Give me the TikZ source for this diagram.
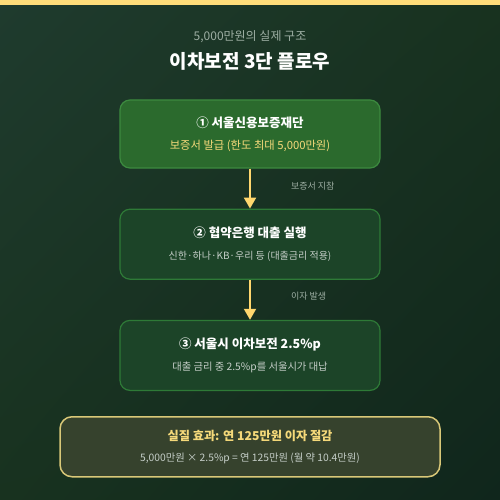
\documentclass[tikz,border=0pt]{standalone}
\usepackage{fontspec}
\setmainfont{Noto Sans CJK KR}
\usetikzlibrary{arrows.meta,positioning,shadings}
\definecolor{bgA}{HTML}{1F3B2E}
\definecolor{bgB}{HTML}{18321F}
\definecolor{bgC}{HTML}{10261C}
\definecolor{topbar}{HTML}{FFDD7A}
\definecolor{gold}{HTML}{F5D97A}
\definecolor{subgray}{HTML}{9DAEA3}
\definecolor{lightgray}{HTML}{C5CEC8}
\definecolor{leadfill}{HTML}{2B6A2D}
\definecolor{leaddraw}{HTML}{3C8A3F}
\definecolor{stepfill}{HTML}{1C4428}
\definecolor{stepdraw}{HTML}{2E7A37}
\definecolor{sumfill}{HTML}{36422D}
\definecolor{sumdraw}{HTML}{D9C878}
\definecolor{flowc}{HTML}{FFD76E}
\tikzset{stepbox/.style={draw=stepdraw,fill=stepfill,line width=1.2pt,rounded corners=10pt,align=center,minimum height=70pt,minimum width=260pt,text=white,font=\fontsize{11}{22}\selectfont},leadbox/.style={stepbox,draw=leaddraw,fill=leadfill,minimum height=68pt},sumbox/.style={stepbox,draw=sumdraw,fill=sumfill,line width=1.5pt,rounded corners=12pt,minimum width=380pt,minimum height=60pt,font=\fontsize{11}{21}\selectfont},flow/.style={-{Triangle[width=12pt,length=11pt]},draw=flowc,line width=2pt},note/.style={text=subgray,font=\fontsize{9}{11}\selectfont,anchor=west,inner sep=0pt}}

\begin{document}
\begin{tikzpicture}[x=1pt,y=-1pt,node distance=40pt]
\shade[upper left=bgA,upper right=bgB,lower left=bgB,lower right=bgC] (0,0) rectangle (500,500);
\fill[topbar] (0,0) rectangle (500,5);
\useasboundingbox (0,0) rectangle (500,500);
\node[text=subgray,font=\fontsize{12}{14}\selectfont] (sub) at (250,37) {5,000만원의 실제 구조};
\node[text=white,font=\fontsize{19}{21}\selectfont\bfseries] (title) at (250,61) {이차보전 3단 플로우};
\node[leadbox] (fund) at (250,134) {{\fontsize{12.5}{22}\selectfont\bfseries ① 서울신용보증재단}\\{\color{gold}\fontsize{11.3}{22}\selectfont 보증서 발급 (한도 최대 5,000만원)}};
\node[stepbox,below=of fund] (bank) {{\fontsize{12.5}{22}\selectfont\bfseries ② 협약은행 대출 실행}\\{\color{lightgray}\fontsize{10}{22}\selectfont 신한·하나·KB·우리 등 (대출금리 적용)}};
\node[stepbox,below=of bank] (city) {{\fontsize{12.5}{22}\selectfont\bfseries ③ 서울시 이차보전 2.5\%p}\\{\color{lightgray}\fontsize{10.3}{22}\selectfont 대출 금리 중 2.5\%p를 서울시가 대납}};
\node[sumbox,below=25pt of city] (gain) {{\color{gold}\fontsize{12.2}{21}\selectfont\bfseries 실질 효과: 연 125만원 이자 절감}\\{\color{lightgray}\fontsize{10.3}{21}\selectfont 5,000만원 × 2.5\%p = 연 125만원 (월 약 10.4만원)}};
\draw[flow] (fund) -- node[note,pos=0.45,xshift=40pt] {보증서 지참} (bank);
\draw[flow] (bank) -- node[note,pos=0.42,xshift=40pt] {이자 발생} (city);
\end{tikzpicture}
\end{document}
